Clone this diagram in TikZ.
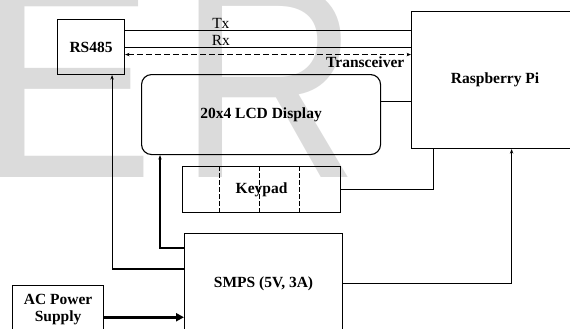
\documentclass[tikz,border=0pt]{standalone}
\usepackage{fontspec}
\setmainfont{Liberation Serif}
\newfontfamily\wmfont{Liberation Sans}
\usetikzlibrary{arrows.meta,positioning}

\begin{document}
\begin{tikzpicture}[x=1pt,y=-1pt,>={Stealth[length=4.5pt,width=3.5pt]},
  blockbox/.style={draw,line width=1.1pt,anchor=north west,inner sep=1pt,align=center,
    font=\fontsize{15.5}{17}\selectfont\bfseries},
  lbl/.style={inner sep=1.5pt,font=\fontsize{15.5}{17}\selectfont},
  sigline/.style={line width=0.7pt},
  pwrline/.style={line width=1.1pt,->},
  wmark/.style={text=gray!28,inner sep=0pt,anchor=base west,
    font=\wmfont\fontsize{279}{279}\selectfont}]
  \useasboundingbox (0,0) rectangle (570,329);
  \clip (0,0) rectangle (570,329);
  % watermark
  \node[wmark] (wmE) at (-22,177) {\scalebox{0.95}[1]{E}};
  \node[wmark] (wmR) at (178,177) {\scalebox{0.9}[1]{R}};
  % blocks
  \node[blockbox,minimum width=67pt,minimum height=55pt] (rs) at (57,19) {RS485};
  \node[blockbox,minimum width=167pt,minimum height=137pt] (pi) at (411,11) {Raspberry Pi};
  \node[blockbox,rounded corners=10pt,minimum width=239pt,minimum height=80pt] (lcd) at (141,74) {20x4 LCD Display};
  \node[blockbox,minimum width=158pt,minimum height=46pt] (kp) at (182,166) {Keypad};
  \node[blockbox,minimum width=158pt,minimum height=100pt] (smps) at (184,233) {SMPS (5V, 3A)};
  \node[blockbox,minimum width=91pt,minimum height=48pt] (ac) at (12,285) {AC Power\\Supply};
  \foreach \dx in {37,77,117}
    \draw[dashed,dash pattern=on 5pt off 2pt,line width=0.6pt]
      ([xshift=\dx pt]kp.north west) -- ([xshift=\dx pt]kp.south west);
  % serial lines
  \coordinate (txA) at ([yshift=-11pt]rs.north east);
  \coordinate (trA) at ([yshift=-7.5pt]rs.east);
  \draw[sigline] (txA) -- (txA -| pi.west) node[lbl,pos=0.335,above] {Tx};
  \draw[sigline] (rs.east) -- (rs.east -| pi.west) node[lbl,pos=0.335,above] {Rx};
  \draw[sigline,dashed,dash pattern=on 6pt off 3pt,<->] (trA) -- (trA -| pi.west)
    node[lbl,pos=0.84,below,font=\fontsize{15.5}{17}\selectfont\bfseries] {Transceiver};
  % lcd and keypad to pi
  \draw[line width=1.1pt] ([yshift=13pt]lcd.east) -- ([yshift=13pt]lcd.east -| pi.west);
  \draw[line width=1.1pt] (kp.east) -| ([xshift=22.5pt]pi.south west);
  % power
  \draw[pwrline] (smps.east) -| ([xshift=100.6pt]pi.south west);
  \draw[pwrline] ([yshift=-15pt]smps.north west) -| ([xshift=19pt]lcd.south west);
  \draw[pwrline] ([yshift=-36pt]smps.north west) -| ([xshift=21pt]rs.south);
  \draw[line width=2.6pt,-{Triangle[length=8pt,width=8pt]}] ([yshift=-7.7pt]ac.east) -- ([yshift=-7.7pt]ac.east -| smps.west);
\end{tikzpicture}
\end{document}
